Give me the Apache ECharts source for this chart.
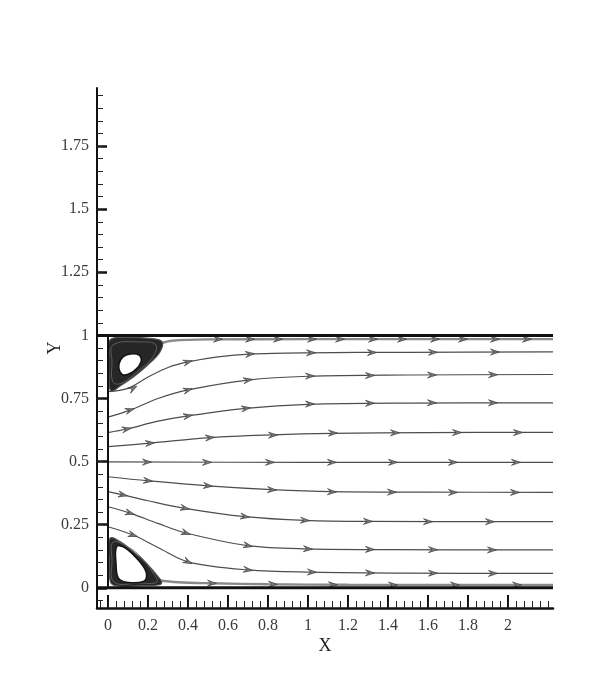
<!DOCTYPE html>
<html><head><meta charset="utf-8">
<script src="https://cdn.jsdelivr.net/npm/echarts@6.0.0/dist/echarts.min.js"></script>
<style>html,body{margin:0;padding:0;background:#fff}#c{width:613px;height:691px}</style>
</head><body><div id="c"></div>
<script>
// ---- axis ticks / labels ----
const xTickLabels = [0, 0.2, 0.4, 0.6, 0.8, 1, 1.2, 1.4, 1.6, 1.8, 2];
const yTickLabels = [0, 0.25, 0.5, 0.75, 1, 1.25, 1.5, 1.75];
const xRange = [-0.055, 2.225];
const yRange = [-0.08, 1.98];
const xMinorTicks = []; for (let i = -1; i <= 55; i++) xMinorTicks.push(+(i * 0.04).toFixed(2));
const yMinorTicks = []; for (let i = -1; i <= 39; i++) yMinorTicks.push(+(i * 0.05).toFixed(2));

// ---- channel walls ----
const wallTop = [[-0.055, 1], [2.225, 1]];
const wallBottom = [[-0.055, 0], [2.225, 0]];
const wallLeft = [[0, 0], [0, 1]];

// ---- streamlines [x, y] ----
const line1 = [[0.26, 0.968], [0.32, 0.979], [0.5, 0.984], [1.0, 0.985], [2.225, 0.985]];
const line2 = [[0, 0.777], [0.1, 0.79], [0.2, 0.835], [0.3, 0.873], [0.4, 0.895], [0.55, 0.915], [0.71, 0.926], [1.0, 0.931], [1.5, 0.933], [2.225, 0.935]];
const line3 = [[0, 0.676], [0.11, 0.704], [0.25, 0.75], [0.4, 0.784], [0.7, 0.823], [1.0, 0.838], [1.5, 0.843], [2.225, 0.845]];
const line4 = [[0, 0.615], [0.094, 0.629], [0.25, 0.66], [0.4, 0.681], [0.69, 0.711], [1.0, 0.727], [1.5, 0.732], [2.225, 0.733]];
const line5 = [[0, 0.559], [0.21, 0.573], [0.51, 0.595], [0.82, 0.606], [1.12, 0.612], [1.6, 0.615], [2.225, 0.616]];
const line6 = [[0, 0.499], [1.0, 0.497], [2.225, 0.497]];
const line7 = [[0, 0.44], [0.2, 0.424], [0.5, 0.404], [0.82, 0.389], [1.12, 0.381], [1.6, 0.379], [2.225, 0.378]];
const line8 = [[0, 0.381], [0.075, 0.368], [0.2, 0.345], [0.385, 0.315], [0.685, 0.282], [0.985, 0.267], [1.3, 0.263], [2.225, 0.262]];
const line9 = [[0, 0.321], [0.11, 0.296], [0.25, 0.255], [0.39, 0.217], [0.7, 0.167], [1.0, 0.154], [1.4, 0.151], [2.225, 0.150]];
const line10 = [[0, 0.242], [0.125, 0.209], [0.25, 0.16], [0.4, 0.103], [0.7, 0.071], [1.02, 0.062], [1.5, 0.058], [2.225, 0.057]];
const line11 = [[0.25, 0.03], [0.35, 0.022], [0.52, 0.018], [0.8, 0.014], [1.2, 0.012], [2.225, 0.011]];
const streamlines = [line1, line2, line3, line4, line5, line6, line7, line8, line9, line10, line11];

// ---- arrow positions on each streamline [x, y] ----
const arrows1 = [[0.55, 0.985], [0.71, 0.985], [0.85, 0.985], [1.02, 0.985], [1.16, 0.985], [1.325, 0.985], [1.47, 0.985], [1.635, 0.985], [1.775, 0.985], [1.935, 0.985], [2.095, 0.985]];
const arrows2 = [[0.125, 0.79], [0.40, 0.895], [0.71, 0.926], [1.015, 0.931], [1.32, 0.932], [1.625, 0.933], [1.935, 0.934]];
const arrows3 = [[0.11, 0.704], [0.40, 0.784], [0.70, 0.823], [1.01, 0.839], [1.31, 0.841], [1.62, 0.843], [1.925, 0.844]];
const arrows4 = [[0.094, 0.629], [0.40, 0.681], [0.69, 0.711], [1.01, 0.728], [1.31, 0.731], [1.62, 0.733], [1.925, 0.733]];
const arrows5 = [[0.21, 0.573], [0.51, 0.595], [0.825, 0.605], [1.125, 0.613], [1.435, 0.614], [1.745, 0.615], [2.05, 0.615]];
const arrows6 = [[0.195, 0.498], [0.495, 0.497], [0.81, 0.497], [1.12, 0.497], [1.425, 0.497], [1.725, 0.497], [2.04, 0.497]];
const arrows7 = [[0.2, 0.424], [0.5, 0.404], [0.82, 0.388], [1.12, 0.38], [1.42, 0.379], [1.725, 0.378], [2.035, 0.378]];
const arrows8 = [[0.075, 0.368], [0.385, 0.315], [0.685, 0.282], [0.985, 0.267], [1.30, 0.263], [1.60, 0.262], [1.91, 0.262]];
const arrows9 = [[0.11, 0.296], [0.39, 0.217], [0.70, 0.167], [1.0, 0.154], [1.31, 0.152], [1.625, 0.151], [1.92, 0.150]];
const arrows10 = [[0.125, 0.209], [0.40, 0.103], [0.70, 0.071], [1.02, 0.062], [1.31, 0.059], [1.625, 0.058], [1.925, 0.057]];
const arrows11 = [[0.52, 0.018], [0.825, 0.014], [1.125, 0.012], [1.425, 0.011], [1.735, 0.011], [2.045, 0.011]];
const arrowSets = [arrows1, arrows2, arrows3, arrows4, arrows5, arrows6, arrows7, arrows8, arrows9, arrows10, arrows11];

// ---- recirculation vortices (outer boundary / middle loop / inner eye) ----
const topVortexOuter = [[0.01, 0.982], [0.085, 0.992], [0.21, 0.988], [0.27, 0.975], [0.26, 0.934], [0.21, 0.891], [0.14, 0.843], [0.06, 0.799], [0.015, 0.779], [0.005, 0.843], [0.005, 0.922]];
const topVortexMid = [[0.025, 0.962], [0.16, 0.974], [0.24, 0.962], [0.22, 0.910], [0.15, 0.859], [0.07, 0.811], [0.025, 0.815], [0.02, 0.895]];
const topVortexEye = [[0.11, 0.926], [0.155, 0.922], [0.165, 0.895], [0.135, 0.863], [0.085, 0.843], [0.06, 0.855], [0.055, 0.887], [0.075, 0.915]];
const botVortexOuter = [[0.01, 0.196], [0.06, 0.183], [0.127, 0.143], [0.193, 0.097], [0.243, 0.051], [0.268, 0.024], [0.26, 0.012], [0.16, 0.008], [0.043, 0.008], [0.0125, 0.023], [0.0065, 0.110]];
const botVortexMid = [[0.025, 0.181], [0.10, 0.162], [0.17, 0.118], [0.225, 0.059], [0.245, 0.023], [0.16, 0.019], [0.03, 0.023], [0.02, 0.110]];
const botVortexEye = [[0.043, 0.163], [0.077, 0.162], [0.127, 0.130], [0.177, 0.084], [0.193, 0.051], [0.177, 0.025], [0.093, 0.022], [0.052, 0.038], [0.04, 0.097]];
const vortices = [
  { outer: topVortexOuter, mid: topVortexMid, eye: topVortexEye },
  { outer: botVortexOuter, mid: botVortexMid, eye: botVortexEye }
];

// ---- build chart ----
const chart = echarts.init(document.getElementById('c'), null, { renderer: 'canvas' });
const gridPos = { left: 97, right: 60, top: 88, bottom: 83, outerBoundsMode: 'none' };
const labelFont = { fontFamily: 'Liberation Serif', fontSize: 16, color: '#3a3a3a' };
const nameFont = { fontFamily: 'Liberation Serif', fontSize: 18, color: '#222' };

const series = [];
streamlines.forEach((ln, i) => {
  const nearWall = (i === 0 || i === 10);
  series.push({
    type: 'line', xAxisIndex: 0, yAxisIndex: 0, data: ln, smooth: 0.35,
    showSymbol: false, silent: true, z: 2,
    lineStyle: { color: nearWall ? '#8a8a8a' : '#4d4d4d', width: nearWall ? 2.4 : 1.2 }
  });
});
const arrowData = [];
arrowSets.forEach((set, li) => set.forEach(p => arrowData.push([p[0], p[1], li])));
series.push({
  type: 'custom', xAxisIndex: 0, yAxisIndex: 0, z: 4, silent: true,
  data: arrowData,
  renderItem(params, api) {
    const x = api.value(0), y = api.value(1), li = api.value(2);
    const pts = streamlines[li];
    let i = 0; while (i < pts.length - 2 && pts[i + 1][0] < x) i++;
    const a = api.coord(pts[i]), b = api.coord(pts[i + 1]);
    let dx = b[0] - a[0], dy = b[1] - a[1];
    const L = Math.hypot(dx, dy) || 1; dx /= L; dy /= L;
    const nx = -dy, ny = dx;
    const p = api.coord([x, y]);
    const len = 4.5, w = 3;
    const tip = [p[0] + len * dx, p[1] + len * dy];
    const b1 = [p[0] - len * dx + w * nx, p[1] - len * dy + w * ny];
    const b2 = [p[0] - len * dx - w * nx, p[1] - len * dy - w * ny];
    const notch = [p[0] - 0.2 * len * dx, p[1] - 0.2 * len * dy];
    return { type: 'polygon', shape: { points: [tip, b1, notch, b2] },
      style: { fill: '#7a7a7a', stroke: '#3d3d3d', lineWidth: 0.7 } };
  }
});
series.push({
  type: 'custom', xAxisIndex: 0, yAxisIndex: 0, z: 5, silent: true,
  data: [[0, 0], [1, 0]],
  renderItem(params, api) {
    const v = vortices[api.value(0)];
    const outer = v.outer.map(p => api.coord(p));
    const mid = v.mid.map(p => api.coord(p));
    const eye = v.eye.map(p => api.coord(p));
    return { type: 'group', children: [
      { type: 'polygon', shape: { points: outer, smooth: 0.4 }, style: { fill: '#262626', stroke: '#555', lineWidth: 1.2 } },
      { type: 'polygon', shape: { points: mid, smooth: 0.4 }, style: { fill: 'none', stroke: '#6a6a6a', lineWidth: 0.8 } },
      { type: 'polygon', shape: { points: eye, smooth: 0.4 }, style: { fill: '#ffffff', stroke: '#111', lineWidth: 1.5 } }
    ] };
  }
});
[wallTop, wallBottom, wallLeft].forEach((w, i) => {
  series.push({
    type: 'line', xAxisIndex: 0, yAxisIndex: 0, data: w, showSymbol: false, silent: true, z: 6,
    lineStyle: { color: '#111', width: i === 2 ? 2 : 3 }
  });
});

chart.setOption({
  backgroundColor: '#fff',
  animation: false,
  grid: [Object.assign({}, gridPos), Object.assign({}, gridPos)],
  xAxis: [
    { type: 'value', gridIndex: 0, min: xRange[0], max: xRange[1], position: 'bottom',
      name: 'X', nameLocation: 'middle', nameGap: 29, nameMoveOverlap: false, nameTextStyle: nameFont,
      axisLine: { show: true, onZero: false, lineStyle: { color: '#111', width: 2.5 } },
      axisTick: { show: true, inside: true, length: 13, customValues: xTickLabels, lineStyle: { color: '#111', width: 2 } },
      axisLabel: { show: true, margin: 10, customValues: xTickLabels, ...labelFont },
      splitLine: { show: false } },
    { type: 'value', gridIndex: 1, min: xRange[0], max: xRange[1], position: 'bottom',
      axisLine: { show: false, onZero: false },
      axisTick: { show: true, inside: true, length: 7, customValues: xMinorTicks, lineStyle: { color: '#222', width: 1 } },
      axisLabel: { show: false, customValues: xMinorTicks },
      splitLine: { show: false } }
  ],
  yAxis: [
    { type: 'value', gridIndex: 0, min: yRange[0], max: yRange[1], position: 'left',
      name: 'Y', nameLocation: 'middle', nameGap: 33, nameRotate: 90, nameMoveOverlap: false, nameTextStyle: nameFont,
      axisLine: { show: true, onZero: false, lineStyle: { color: '#111', width: 2 } },
      axisTick: { show: true, inside: true, length: 10, customValues: yTickLabels, lineStyle: { color: '#111', width: 2.5 } },
      axisLabel: { show: true, margin: 8, customValues: yTickLabels, ...labelFont },
      splitLine: { show: false } },
    { type: 'value', gridIndex: 1, min: yRange[0], max: yRange[1], position: 'left',
      axisLine: { show: false, onZero: false },
      axisTick: { show: true, inside: true, length: 6, customValues: yMinorTicks, lineStyle: { color: '#222', width: 1 } },
      axisLabel: { show: false, customValues: yMinorTicks },
      splitLine: { show: false } }
  ],
  series: series
});
</script>
</body></html>
